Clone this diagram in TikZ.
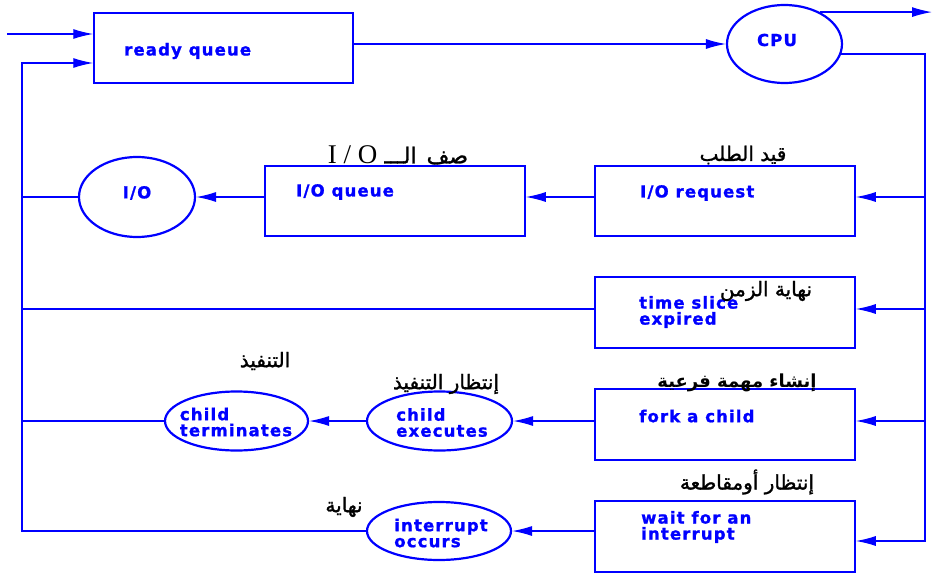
\documentclass[tikz,border=0pt]{standalone}
\usepackage{fontspec}
\usetikzlibrary{shapes.geometric,arrows.meta,calc}
\TeXXeTstate=1
\setmainfont{Liberation Serif}
\newfontfamily\labfont[LetterSpace=7, FakeBold=1.2]{DejaVu Sans Bold}
\newfontfamily\arfont[Script=Arabic, FakeBold=1.4]{DejaVu Sans}
\newfontfamily\arbold[Script=Arabic]{DejaVu Sans Bold}
\newfontfamily\serfont{Liberation Serif}
\definecolor{flow}{RGB}{0,0,255}

\tikzset{
  box/.style={draw=flow, line width=1.5pt, minimum width=260pt, minimum height=70pt, inner sep=0pt},
  oval/.style={draw=flow, ellipse, line width=2.2pt, inner sep=0pt},
  lab/.style={text=flow, font=\labfont\fontsize{16.5}{16}\selectfont, align=left, inner sep=0pt},
  ar/.style={text=black, font=\arfont\fontsize{20}{22}\selectfont, inner sep=0pt},
  link/.style={draw=flow, line width=1.3pt},
  arrow/.style={link, -{Latex[length=20pt,width=10pt]}},
}

\begin{document}
\begin{tikzpicture}[x=1pt,y=-1pt]
\useasboundingbox (0,0) rectangle (935,573);
\fill[white] (0,0) rectangle (935,573);

% queues and request boxes
\node[box, minimum width=259pt] (rq) at (223.5,48) {};
\node[box] (ioq) at (395,201) {};
\node[box] (ioreq) at (725,201) {};
\node[box, minimum height=71pt] (ts) at (725,312.5) {};
\node[box, minimum height=71pt] (fork) at (725,424.5) {};
\node[box, minimum height=71pt] (wait) at (725,536.5) {};

% processing states
\node[oval, minimum width=115pt, minimum height=78pt] (cpu) at (784.5,44) {};
\node[oval, minimum width=116pt, minimum height=80pt] (io) at (137,197) {};
\node[oval, minimum width=145pt, minimum height=59pt] (ce) at (439.5,421) {};
\node[oval, minimum width=143pt, minimum height=59pt] (ct) at (236.5,421) {};
\node[oval, minimum width=144pt, minimum height=58pt] (intr) at (439,531) {};

% English labels
\node[lab, anchor=west] (rqT) at (124,51) {ready queue};
\node[lab, anchor=west] (ioqT) at (296,192) {I/O queue};
\node[lab, anchor=west] (ioreqT) at (640,193) {I/O request};
\node[lab, anchor=west] (tsT) at (639,312) {time slice\\expired};
\node[lab, anchor=west] (forkT) at (639,416) {fork a child};
\node[lab, anchor=west] (waitT) at (641,527) {wait for an\\interrupt};
\node[lab] (cpuT) at (777,40) {CPU};
\node[lab] (ioT) at (137,193) {I/O};
\node[lab] (ceT) at (442,422.5) {child\\executes};
\node[lab] (ctT) at (236,422) {child\\terminates};
\node[lab] (intrT) at (441,533) {interrupt\\occurs};

% Arabic captions
\node[ar, font=\arfont\fontsize{22}{24}\selectfont] (ioqA) at (398,155)
  {\beginR صف\hspace{10pt}الـــ \beginL{\serfont\fontsize{27}{28}\selectfont I / O}\endL\endR};
\node[ar] (ioreqA) at (743,155) {\beginR قيد الطلب\endR};
\node[ar] (tsA) at (766,291) {\beginR نهاية الزمن\endR};
\node[ar, font=\arbold\fontsize{18}{20}\selectfont] (forkA) at (737,383) {\beginR إنشاء مهمة فرعية\endR};
\node[ar] (waitA) at (747,482) {\beginR إنتظار  أومقاطعة\endR};
\node[ar] (ceA) at (446,384) {\beginR إنتظار التنفيذ\endR};
\node[ar] (ctA) at (265,361) {\beginR التنفيذ\endR};
\node[ar] (intrA) at (344,507) {\beginR نهاية\endR};

% helper points for the buses and free ends
\coordinate (in1) at (7,34);
\coordinate (retTop) at (22,63);
\coordinate (out) at (932,13);
\coordinate (rbot) at (925,541);
\coordinate (r1) at (0,197);
\coordinate (r2) at (0,309);
\coordinate (r3) at (0,421);
\coordinate (r4) at (0,531);

% entry into the ready queue
\draw[arrow] (in1) -- (rq.west |- in1);
\draw[arrow] (rq.east |- cpu.west) -- (cpu.west);
\draw[arrow] (cpu.42) -- (cpu.42 -| out);

% right-hand distribution bus
\draw[arrow] (cpu.-10) -| (rbot) -- (wait.east |- rbot);
\draw[arrow] (rbot |- r1) -- (ioreq.east |- r1);
\draw[arrow] (rbot |- r2) -- (ts.east |- r2);
\draw[arrow] (rbot |- r3) -- (fork.east |- r3);

% chains towards the left
\draw[arrow] (ioreq.west |- r1) -- (ioq.east |- r1);
\draw[arrow] (ioq.west |- r1) -- (io.east);
\draw[arrow] (fork.west |- r3) -- (ce.east);
\draw[arrow] (ce.west) -- (ct.east);
\draw[arrow] (wait.west |- r4) -- (intr.east);

% left-hand return bus
\draw[arrow] (intr.west) -| (retTop) -- (rq.west |- retTop);
\draw[link] (io.west) -- (io.west -| retTop);
\draw[link] (ts.west |- r2) -- (r2 -| retTop);
\draw[link] (ct.west) -- (ct.west -| retTop);
\end{tikzpicture}
\end{document}
